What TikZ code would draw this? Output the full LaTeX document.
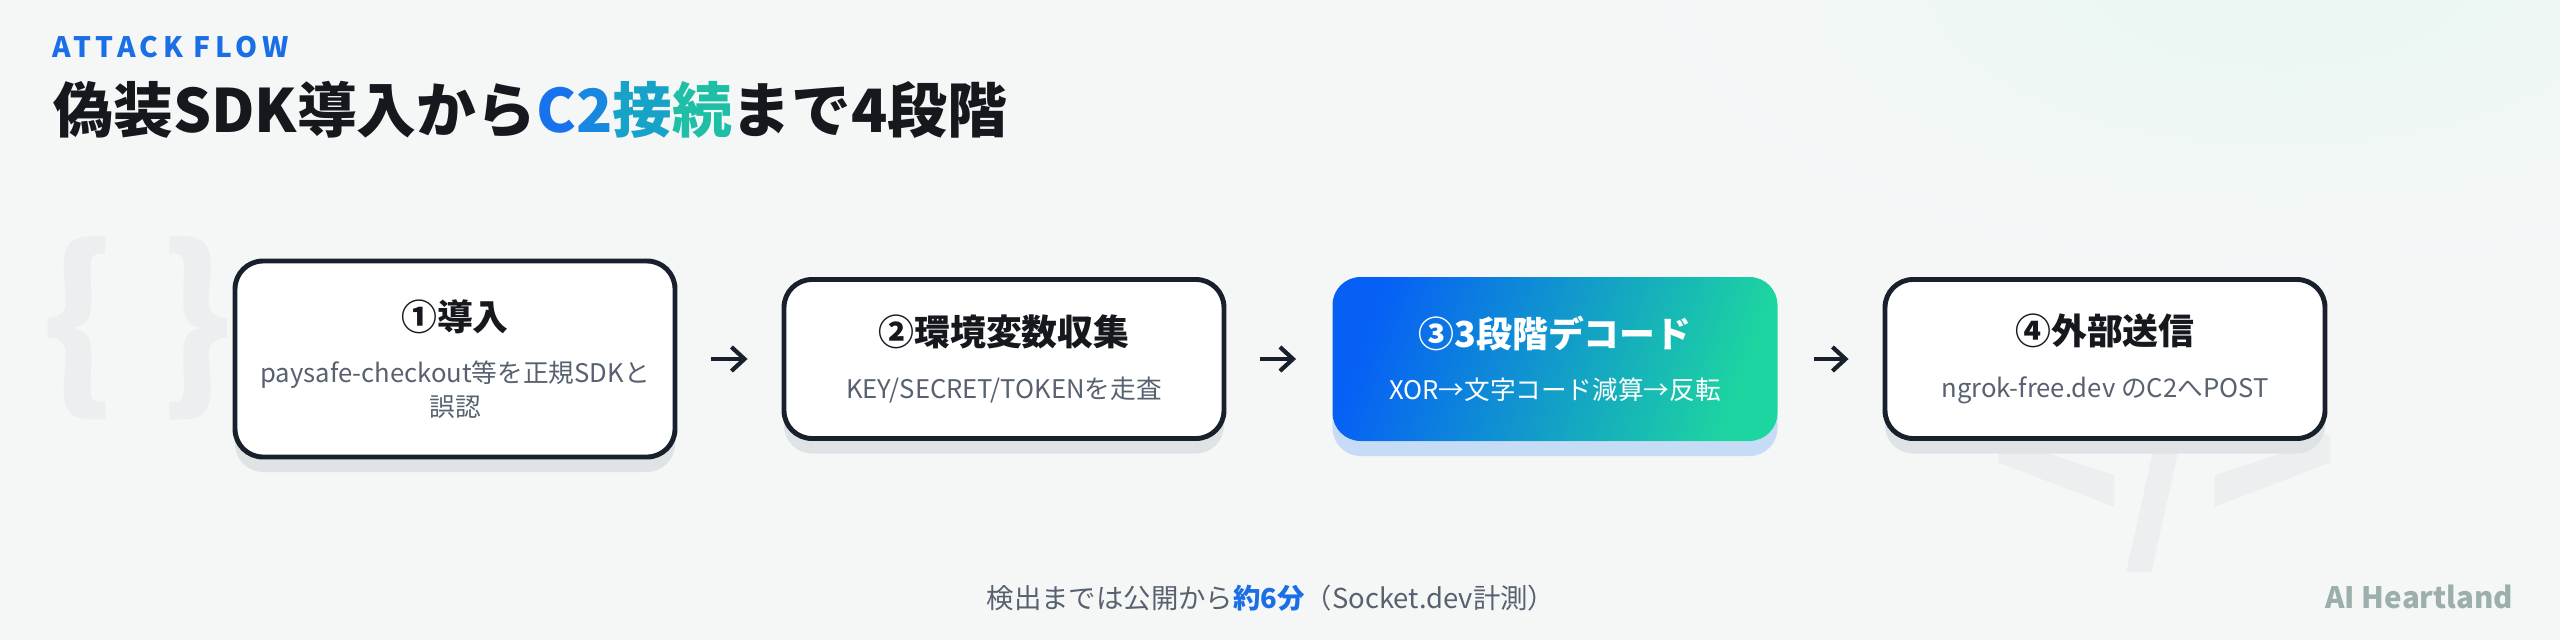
\documentclass[tikz,border=0pt]{standalone}
\usepackage{fontspec}
\setmainfont{Noto Sans CJK JP}
\usetikzlibrary{arrows.meta,shadows}

\definecolor{bgcol}{HTML}{F5F7F7}
\definecolor{tealtint}{HTML}{E9F7F2}
\definecolor{decogray}{HTML}{ECEEEF}
\definecolor{boxline}{HTML}{18202C}
\definecolor{inkcol}{HTML}{15181D}
\definecolor{descgray}{HTML}{586170}
\definecolor{shadowgray}{HTML}{E0E3E5}
\definecolor{shadowblue}{HTML}{C6DBF5}
\definecolor{actone}{HTML}{0660F6}
\definecolor{acttwo}{HTML}{1DD5A0}
\definecolor{accent}{HTML}{1A6FE6}
\definecolor{c2a}{HTML}{1872EE}
\definecolor{c2b}{HTML}{1787E0}
\definecolor{c2c}{HTML}{17A2C8}
\definecolor{c2d}{HTML}{1EBFA6}
\definecolor{brandgray}{HTML}{9DAFAC}

\newcommand{\stepcontent}[3][inkcol]{{\fontsize{10.2}{12}\selectfont\bfseries\color{#1}#2}\\[5.2pt]#3}

\begin{document}
\begin{tikzpicture}[
	stepbox/.style = {draw = boxline,
					  line width = 1.4pt,
					  fill = white,
					  rounded corners = 0.28cm,
					  minimum width = 4.40cm,
					  minimum height = 1.59cm,
					  align = center,
					  inner sep = 0pt,
					  text = descgray,
					  font = \fontsize{7.3}{9.7}\selectfont,
					  drop shadow = {shadow xshift = 0cm, shadow yshift = -0.15cm, fill = #1, opacity = 1}},
	stepbox/.default = shadowgray,
	activebox/.style = {stepbox = shadowblue,
						draw = none,
						minimum width = 4.45cm,
						minimum height = 1.64cm,
						top color = actone,
						bottom color = acttwo,
						shading angle = 70,
						text = white},
	flowarrow/.style = {-{Straight Barb[length = 0.13cm, width = 0.24cm]},
						line width = 1.2pt,
						draw = boxline,
						shorten < = 0.34cm,
						shorten > = 0.34cm},
	deco/.style = {text = decogray, inner sep = 0pt}
]
	\clip (0, 0) rectangle (25.6, 6.4);
	\fill[bgcol] (0, 0) rectangle (25.6, 6.4);
	\shade[inner color = tealtint, outer color = bgcol] (22.8, 6.6) ellipse (6.5 and 3);

	\draw (0.79, 3.12) node[deco, font = \bfseries\fontsize{53}{53}\selectfont](lbrace){\{};
	\draw (1.97, 3.12) node[deco, font = \bfseries\fontsize{53}{53}\selectfont](rbrace){\}};
	\draw (21.65, 1.08) node[deco, anchor = base, font = \bfseries\fontsize{62}{62}\selectfont](tag){</>};

	\draw (0.52, 5.83) node[anchor = base west,
					  inner sep = 0pt,
					  text = accent,
					  font = \bfseries\fontsize{8}{10}\selectfont\addfontfeature{LetterSpace = 16}
			   ](kicker){ATTACK FLOW};
	\draw (0.53, 5.08) node[anchor = base west,
					  inner sep = 0pt,
					  text = inkcol,
					  font = \bfseries\fontsize{17}{20}\selectfont
			   ](headline){偽装SDK導入から\textcolor{c2a}{C}\textcolor{c2b}{2}\textcolor{c2c}{接}\textcolor{c2d}{続}まで4段階};

	\draw (4.55, 2.81) node[stepbox,
					  minimum height = 1.96cm
			   ](s1){\stepcontent{①導入}{paysafe-checkout等を正規SDKと\\誤認}};
	\draw (10.04, 2.81) node[stepbox
			   ](s2){\stepcontent{②環境変数収集}{KEY/SECRET/TOKENを走査}};
	\draw (15.55, 2.81) node[activebox
			   ](s3){\stepcontent[white]{③3段階デコード}{XOR→文字コード減算→反転}};
	\draw (21.05, 2.81) node[stepbox
			   ](s4){\stepcontent{④外部送信}{ngrok-free.dev のC2へPOST}};

	\draw[flowarrow] (s1) -- (s2);
	\draw[flowarrow] (s2) -- (s3);
	\draw[flowarrow] (s3) -- (s4);

	\draw (12.71, 0.32) node[anchor = base,
					  inner sep = 0pt,
					  text = descgray,
					  font = \fontsize{7.8}{9}\selectfont
			   ](note){検出までは公開から\textcolor{accent}{\bfseries 約6分}（Socket.dev計測）};
	\draw (25.14, 0.32) node[anchor = base east,
					  inner sep = 0pt,
					  text = brandgray,
					  font = \bfseries\fontsize{8.4}{10}\selectfont
			   ](brand){AI Heartland};
\end{tikzpicture}
\end{document}
